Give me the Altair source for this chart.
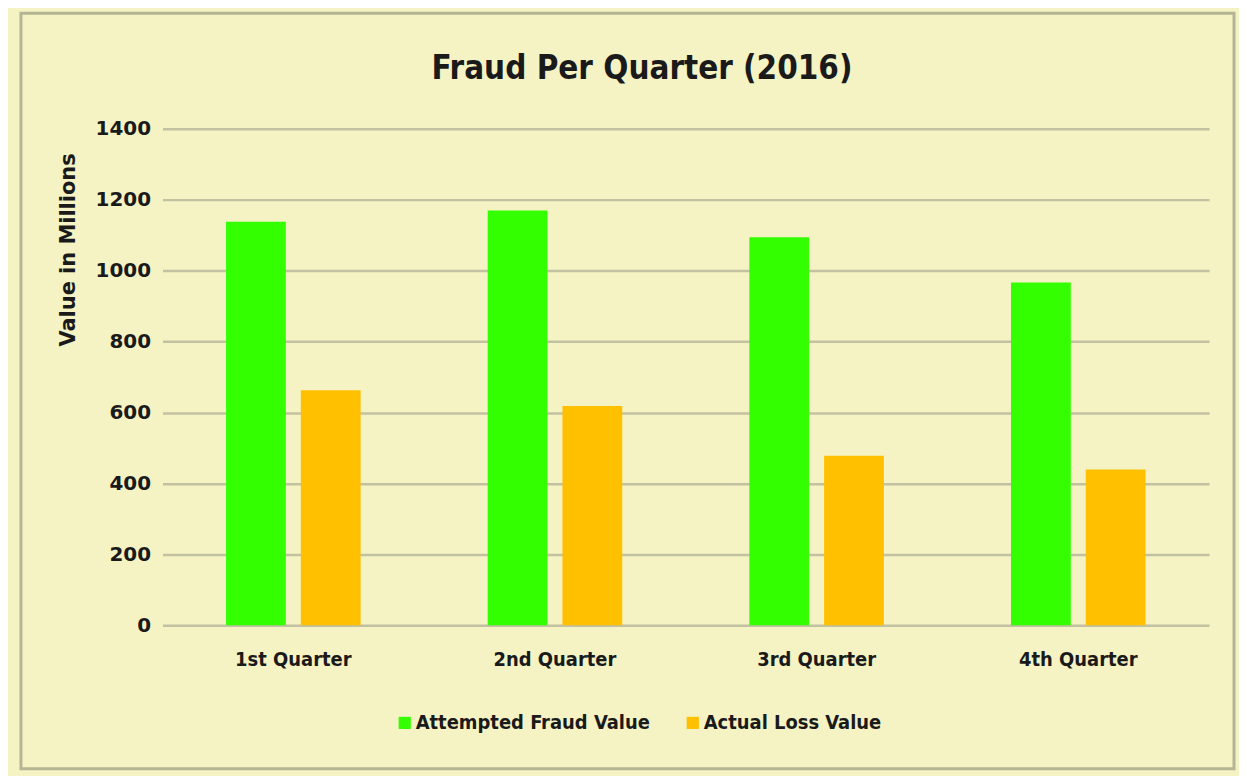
import altair as alt
import pandas as pd

quarters = ["1st Quarter", "2nd Quarter", "3rd Quarter", "4th Quarter"]
series = ["Attempted Fraud Value", "Actual Loss Value"]
attempted = [1138, 1170, 1094, 967]
actual = [663, 618, 478, 439]
colors = ["#33FF00", "#FFC000"]

rows = []
for q, a, b in zip(quarters, attempted, actual):
    rows.append({"quarter": q, "series": series[0], "value": a})
    rows.append({"quarter": q, "series": series[1], "value": b})
df = pd.DataFrame(rows)

COND = "Liberation Sans Narrow, DejaVu Sans Condensed, Roboto, sans-serif"
BG = "#F5F3C4"
GRID = "#C2C1A2"

bars = alt.Chart(df).mark_bar().encode(
    x=alt.X("quarter:N", sort=quarters,
            scale=alt.Scale(paddingInner=0, paddingOuter=0),
            axis=alt.Axis(title=None, labelAngle=0, labelFont=COND, labelFontSize=20,
                          labelFontWeight="bold", labelColor="#1a1a1a", labelPadding=24,
                          ticks=False, domain=False, grid=False)),
    xOffset=alt.XOffset("series:N", sort=series,
                        scale=alt.Scale(paddingInner=0.2, paddingOuter=0.85)),
    y=alt.Y("value:Q", scale=alt.Scale(domain=[0, 1400]),
            axis=alt.Axis(title="Value in Millions", values=list(range(0, 1401, 200)),
                          format="d",
                          labelFont="DejaVu Sans", labelFontSize=20, labelFontWeight="bold",
                          labelColor="#1a1a1a", labelPadding=12,
                          ticks=False, domain=False, grid=True,
                          gridColor=GRID, gridWidth=2.5,
                          titleFont="DejaVu Sans", titleFontSize=21, titleFontWeight="bold",
                          titleColor="#1a1a1a", titleAngle=-90, titleX=-94, titleY=121,
                          titleAlign="center", titleBaseline="middle")),
    color=alt.Color("series:N", sort=series,
                    scale=alt.Scale(domain=series, range=colors),
                    legend=alt.Legend(title=None, orient="none", direction="horizontal",
                                      legendX=233, legendY=586, symbolType="square",
                                      symbolSize=150, symbolStrokeWidth=0, labelLimit=0,
                                      labelFont=COND, labelFontSize=20, labelFontWeight="bold",
                                      labelColor="#1a1a1a", columnPadding=32, labelOffset=1)),
)

border = alt.Chart(pd.DataFrame({"a": [0]})).mark_rect(
    fill=None, stroke="#B3B593", strokeWidth=3
).encode(x=alt.value(-142), x2=alt.value(1075), y=alt.value(-116), y2=alt.value(642))

chart = alt.layer(bars, border).properties(
    width=1050, height=498,
    background=BG,
    padding={"left": 155, "top": 120, "right": 30, "bottom": 150},
    autosize=alt.AutoSizeParams(type="none"),
    title=alt.TitleParams("Fraud Per Quarter (2016)", font=COND, fontSize=33,
                          fontWeight="bold", color="#1a1a1a", anchor="middle",
                          frame="group", dx=-44, offset=0, dy=74),
).configure_view(stroke=None)

chart.save("out.html", embed_options={"renderer": "svg", "actions": False})
